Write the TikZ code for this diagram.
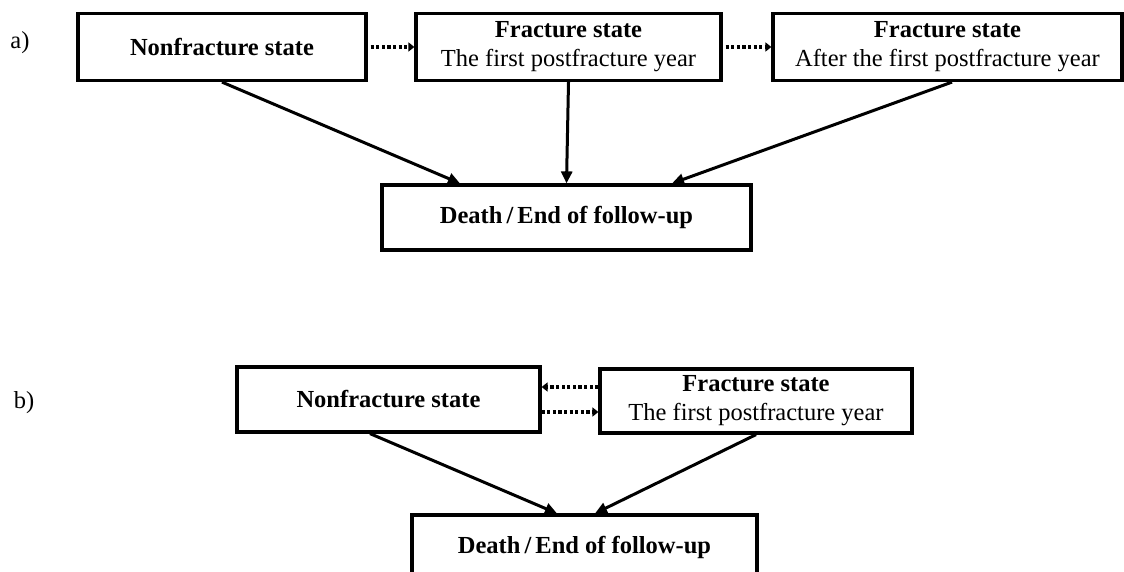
\documentclass[tikz,border=0pt]{standalone}
\usepackage{fontspec}
\setmainfont{Liberation Serif}
\usetikzlibrary{arrows.meta}
\begin{document}
\begin{tikzpicture}[x=1pt,y=-1pt,
  every node/.style={font=\fontsize{24.5}{29}\selectfont},
  box/.style={draw,line width=3.2pt,rectangle,inner sep=0pt,align=center},
  arr/.style={line width=3pt,-{Triangle[length=12pt,width=11pt]}},
  dotarr/.style={line width=3.2pt,dash pattern=on 3.2pt off 2.4pt,-{Triangle[length=6pt,width=9pt]}},
  lab/.style={inner sep=0pt}]
\useasboundingbox (0,0) rectangle (1124,572);
% part a
\node[lab] (la) at (20,43) {a)};
\node[box,minimum width=288pt,minimum height=67pt] (A1) at (222,47) {\textbf{Nonfracture state}};
\node[box,minimum width=305pt,minimum height=67pt] (A2) at (568.5,47) {\textbf{Fracture state}\\The first postfracture year};
\node[box,minimum width=349pt,minimum height=67pt] (A3) at (947.5,47) {\textbf{Fracture state}\\After the first postfracture year};
\node[box,minimum width=369pt,minimum height=65pt] (Da) at (566.5,217.5) {\textbf{Death\,/\,End of follow-up}};
\draw[dotarr] ([xshift=3pt]A1.east) -- (A2.west);
\draw[dotarr] ([xshift=3pt]A2.east) -- (A3.west);
\draw[arr] (A1.south) -- ([xshift=-106.5pt]Da.north);
\draw[arr] (A2.south) -- (Da.north);
\draw[arr] ([xshift=4.5pt]A3.south) -- ([xshift=105.5pt]Da.north);
% part b
\node[lab] (lb) at (24,403) {b)};
\node[box,minimum width=303pt,minimum height=65pt] (B1) at (388.5,399.5) {\textbf{Nonfracture state}};
\node[box,minimum width=312pt,minimum height=64pt] (B2) at (756,401) {\textbf{Fracture state}\\The first postfracture year};
\node[box,minimum width=345pt,minimum height=65pt] (Db) at (584.5,547.5) {\textbf{Death\,/\,End of follow-up}};
\draw[dotarr] ([yshift=14pt]B2.west) -- ([yshift=14pt]B2.west -| B1.east);
\draw[dotarr] ([yshift=-11pt]B2.west -| B1.east) -- ([yshift=-11pt]B2.west);
\draw[arr] ([xshift=-18.5pt]B1.south) -- ([xshift=-27.5pt]Db.north);
\draw[arr] (B2.south) -- ([xshift=10.5pt]Db.north);
\end{tikzpicture}
\end{document}
